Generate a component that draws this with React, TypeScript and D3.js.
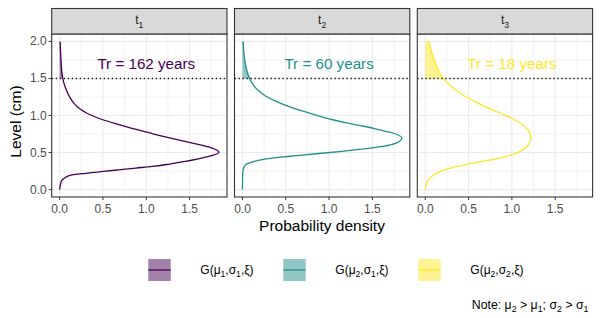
import React from 'react'
import * as d3 from 'd3'

// values (level in cm, density)
const level1 = [0, 0.06, 0.12, 0.16, 0.19, 0.22, 0.245, 0.267, 0.29, 0.312, 0.345, 0.38, 0.415, 0.448, 0.5, 0.575, 0.65, 0.7, 0.756, 0.82, 0.878, 0.946, 1.0, 1.04, 1.08, 1.12, 1.163, 1.23, 1.3, 1.37, 1.434, 1.5, 1.6, 1.75, 1.9, 2.0]
const density1 = [0, 0.008, 0.023, 0.06, 0.11, 0.3, 0.5, 0.685, 0.88, 1.07, 1.27, 1.45, 1.6, 1.72, 1.84, 1.72, 1.45, 1.26, 1.07, 0.86, 0.685, 0.49, 0.37, 0.3, 0.245, 0.2, 0.165, 0.125, 0.093, 0.068, 0.05, 0.036, 0.024, 0.015, 0.009, 0.005]

const level2 = [0, 0.2, 0.267, 0.32, 0.35, 0.375, 0.394, 0.426, 0.45, 0.484, 0.516, 0.545, 0.583, 0.63, 0.697, 0.74, 0.774, 0.81, 0.855, 0.9, 0.946, 1.013, 1.08, 1.136, 1.2, 1.26, 1.33, 1.39, 1.45, 1.5, 1.6, 1.7, 1.84, 2.0]
const density2 = [0, 0.002, 0.008, 0.025, 0.054, 0.12, 0.18, 0.34, 0.55, 0.85, 1.15, 1.38, 1.62, 1.78, 1.84, 1.79, 1.7, 1.57, 1.4, 1.2, 1.03, 0.83, 0.64, 0.5, 0.37, 0.27, 0.19, 0.14, 0.105, 0.082, 0.052, 0.033, 0.017, 0.008]

const level3 = [0, 0.06, 0.13, 0.19, 0.245, 0.3, 0.335, 0.38, 0.426, 0.47, 0.54, 0.62, 0.71, 0.8, 0.878, 0.95, 1.01, 1.08, 1.16, 1.26, 1.37, 1.45, 1.5, 1.6, 1.7, 1.85, 2.0]
const density3 = [0, 0.01, 0.035, 0.09, 0.17, 0.32, 0.46, 0.66, 0.86, 1.0, 1.13, 1.2, 1.22, 1.19, 1.12, 1.02, 0.91, 0.77, 0.62, 0.46, 0.32, 0.25, 0.21, 0.155, 0.12, 0.075, 0.045]

const facetSubs = ['1', '2', '3']
const colors = ['#440154', '#21908C', '#FDE725']
const returnPeriods = [162, 60, 18]
const threshold = 1.5
const xTicks = [0, 0.5, 1, 1.5]
const xMinor = [0.25, 0.75, 1.25, 1.75]
const yTicks = [0, 0.5, 1, 1.5, 2]
const yMinor = [0.25, 0.75, 1.25, 1.75]
// legend labels as [text, subscript] parts
const legendLabels = [
  [['G(μ', '1'], [',σ', '1'], [',ξ)', '']],
  [['G(μ', '2'], [',σ', '1'], [',ξ)', '']],
  [['G(μ', '2'], [',σ', '2'], [',ξ)', '']]
]
const noteParts = [['Note: μ', '2'], [' > μ', '1'], ['; σ', '2'], [' > σ', '1']]

const series = [
  { level: level1, density: density1 },
  { level: level2, density: density2 },
  { level: level3, density: density3 }
]

const W = 600
const H = 318
const font = 'Liberation Sans, Arial, sans-serif'
const panelLeft = 51.7
const panelW = 175.3
const panelGap = 7.5
const stripTop = 8.5
const panelTop = 34
const panelBottom = 197

const x = d3.scaleLinear().domain([-0.092, 1.932]).range([0, panelW])
const y = d3.scaleLinear().domain([-0.1, 2.1]).range([panelBottom, panelTop])

const line = d3.line<[number, number]>()
  .x(d => x(d[1]))
  .y(d => y(d[0]))
  .curve(d3.curveMonotoneY)

const area = d3.area<[number, number]>()
  .y(d => y(d[0]))
  .x0(x(0))
  .x1(d => x(d[1]))
  .curve(d3.curveMonotoneY)

const Sub = ({ parts, size }: { parts: string[][], size: number }) => (
  <>
    {parts.map(([t, s], i) => (
      <React.Fragment key={i}>
        <tspan dy={i === 0 ? 0 : -size * 0.28}>{t}</tspan>
        {s && <tspan fontSize={size * 0.72} dy={size * 0.28}>{s}</tspan>}
      </React.Fragment>
    ))}
  </>
)

const App = () => {
  return (
    <svg width={W} height={H} style={{ position: 'absolute', left: 0, top: 0 }} fontFamily={font}>
      <rect width={W} height={H} fill="#fff" />
      {series.map((s, i) => {
        const pts: [number, number][] = s.level.map((l, j) => [l, s.density[j]])
        const tail = pts.filter(p => p[0] >= threshold)
        const x0 = panelLeft + i * (panelW + panelGap)
        return (
          <g key={i} transform={`translate(${x0},0)`}>
            <rect x={0} y={panelTop} width={panelW} height={panelBottom - panelTop} fill="#fff" />
            {xMinor.map(t => <line key={'xm' + t} x1={x(t)} x2={x(t)} y1={panelTop} y2={panelBottom} stroke="#EBEBEB" strokeWidth={0.6} />)}
            {yMinor.map(t => <line key={'ym' + t} x1={0} x2={panelW} y1={y(t)} y2={y(t)} stroke="#EBEBEB" strokeWidth={0.6} />)}
            {xTicks.map(t => <line key={'x' + t} x1={x(t)} x2={x(t)} y1={panelTop} y2={panelBottom} stroke="#EBEBEB" strokeWidth={1.1} />)}
            {yTicks.map(t => <line key={'y' + t} x1={0} x2={panelW} y1={y(t)} y2={y(t)} stroke="#EBEBEB" strokeWidth={1.1} />)}
            <path d={area(tail) || ''} fill={colors[i]} fillOpacity={0.5} />
            <path d={line(pts) || ''} fill="none" stroke={colors[i]} strokeWidth={1.3} />
            <line x1={0} x2={panelW} y1={y(threshold)} y2={y(threshold)} stroke="#1a1a1a" strokeWidth={1.4} strokeDasharray="1.4 2.6" />
            <text x={x(1)} y={y(1.7)} textAnchor="middle" dominantBaseline="central" fontSize={15.2} fill={colors[i]}>
              {`Tr = ${returnPeriods[i]} years`}
            </text>
            <rect x={0} y={panelTop} width={panelW} height={panelBottom - panelTop} fill="none" stroke="#333" strokeWidth={1.1} />
            <rect x={0} y={stripTop} width={panelW} height={panelTop - stripTop} fill="#D9D9D9" stroke="#333" strokeWidth={1.1} />
            <text x={panelW / 2} y={(stripTop + panelTop) / 2 + 3} textAnchor="middle" fontSize={12} fill="#1a1a1a">
              <Sub parts={[['t', facetSubs[i]]]} size={12} />
            </text>
            {xTicks.map(t => (
              <g key={'xt' + t}>
                <line x1={x(t)} x2={x(t)} y1={panelBottom} y2={panelBottom + 3} stroke="#333" strokeWidth={1} />
                <text x={x(t)} y={panelBottom + 16} textAnchor="middle" fontSize={12} fill="#4D4D4D">{t.toFixed(1)}</text>
              </g>
            ))}
            {i === 0 && yTicks.map(t => (
              <g key={'yt' + t}>
                <line x1={-3} x2={0} y1={y(t)} y2={y(t)} stroke="#333" strokeWidth={1} />
                <text x={-5} y={y(t)} textAnchor="end" dominantBaseline="central" fontSize={12} fill="#4D4D4D">{t.toFixed(1)}</text>
              </g>
            ))}
          </g>
        )
      })}
      <text transform={`translate(15,${(panelTop + panelBottom) / 2 + 6}) rotate(-90)`} textAnchor="middle" dominantBaseline="central" fontSize={15.5} fill="#000">Level (cm)</text>
      <text x={322} y={231} textAnchor="middle" fontSize={15.5} fill="#000">Probability density</text>
      {legendLabels.map((parts, i) => {
        const kx = 148.3 + i * 135
        return (
          <g key={i}>
            <rect x={kx} y={259} width={22.4} height={22} fill={colors[i]} fillOpacity={0.5} />
            <line x1={kx} x2={kx + 22.4} y1={270} y2={270} stroke={colors[i]} strokeWidth={1.3} />
            <text x={kx + 52} y={274} fontSize={12} fill="#000">
              <Sub parts={parts} size={12} />
            </text>
          </g>
        )
      })}
      <text x={588.5} y={309} textAnchor="end" fontSize={12.3} fill="#000">
        <Sub parts={noteParts} size={12.3} />
      </text>
    </svg>
  )
}

export default App
